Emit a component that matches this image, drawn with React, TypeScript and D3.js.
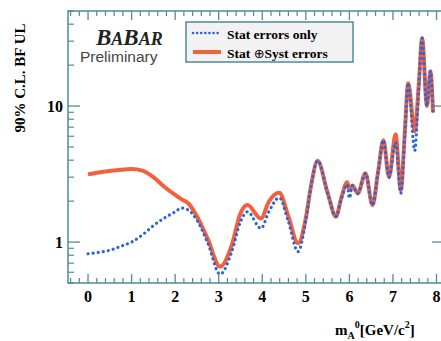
import React from "react";
import * as d3 from "d3";

const mass = [0, 0.25, 0.5, 0.75, 1.0, 1.25, 1.5, 1.75, 2.0, 2.15, 2.3, 2.5, 2.75, 3.03, 3.3, 3.5, 3.66, 3.97, 4.15, 4.39, 4.6, 4.82, 5.0, 5.12, 5.27, 5.5, 5.69, 5.82, 5.95, 6.0, 6.07, 6.19, 6.37, 6.53, 6.66, 6.78, 6.91, 7.06, 7.18, 7.27, 7.35, 7.5, 7.59, 7.67, 7.78, 7.86, 7.92];
const statOnly = [0.82, 0.84, 0.87, 0.93, 1.0, 1.13, 1.32, 1.5, 1.67, 1.78, 1.72, 1.45, 0.98, 0.58, 0.85, 1.41, 1.67, 1.26, 1.67, 2.12, 1.41, 0.85, 1.45, 2.6, 3.96, 2.3, 1.54, 2.1, 2.65, 2.1, 2.6, 2.28, 3.2, 1.87, 3.3, 5.6, 3.0, 5.4, 2.28, 6.0, 14.7, 4.7, 13, 31.5, 10, 18, 9];
const statSyst = [3.15, 3.25, 3.33, 3.4, 3.44, 3.35, 3.0, 2.55, 2.22, 2.06, 1.93, 1.55, 1.05, 0.66, 0.95, 1.63, 1.87, 1.49, 1.98, 2.3, 1.54, 0.98, 1.5, 2.6, 3.96, 2.3, 1.54, 2.15, 2.75, 2.45, 2.6, 2.28, 3.2, 1.87, 3.3, 5.6, 3.0, 6.2, 2.4, 6.2, 14.7, 6.5, 14, 31.5, 10, 18, 9];
const xMajor = [0, 1, 2, 3, 4, 5, 6, 7, 8];
const yMajor = [1, 10];
const legendLabels = ["Stat errors only", "Stat ", "\u2295", "Syst errors"];

const W = 441, H = 341;
const L = 68, R = 440, T = 11, B = 283;
const axisColor = "#4f8b9c";
const blue = "#2e66d6";
const red = "#f2603c";
const serif = "'Liberation Serif', 'DejaVu Serif', serif";

export default function App() {
  const x = d3.scaleLinear().domain([-0.46, 8.08]).range([L, R]);
  const y = d3.scaleLog().domain([0.5, 50]).range([B, T]);
  const line = (vals: number[]) =>
    d3.line<number>().x((_, i) => x(mass[i])).y((v) => y(v)).curve(d3.curveMonotoneX)(vals) || "";

  const xMinor = d3.range(-0.4, 8.05, 0.2).filter((v) => Math.abs(v - Math.round(v)) > 0.01);
  const yMinor: number[] = [];
  [0.1, 1, 10].forEach((d) => {
    for (let k = 2; k <= 9; k++) {
      const v = d * k;
      if (v >= 0.5 && v <= 50) yMinor.push(v);
    }
  });

  return (
    <svg width={W} height={H} style={{ position: "absolute", left: 0, top: 0, background: "#fff" }}>
      <rect x={0} y={0} width={W} height={H} fill="#fff" />
      {/* curves */}
      <path d={line(statSyst)} fill="none" stroke={red} strokeWidth={4} strokeLinejoin="round" />
      <path d={line(statOnly)} fill="none" stroke={blue} strokeWidth={3.2} strokeDasharray="0.1 5" strokeLinecap="round" />

      {/* frame */}
      <path d={`M${R + 2},${T}H${L}V${B}H${R + 2}`} fill="none" stroke={axisColor} strokeWidth={1.5} />
      {xMajor.map((v) => (
        <g key={"xm" + v}>
          <line x1={x(v)} x2={x(v)} y1={B} y2={B - 9} stroke={axisColor} strokeWidth={1.3} />
          <line x1={x(v)} x2={x(v)} y1={T} y2={T + 9} stroke={axisColor} strokeWidth={1.3} />
          <text x={x(v)} y={302} textAnchor="middle" fontFamily={serif} fontWeight="bold" fontSize={16}>{v}</text>
        </g>
      ))}
      {xMinor.map((v, i) => (
        <g key={"xn" + i}>
          <line x1={x(v)} x2={x(v)} y1={B} y2={B - 5} stroke={axisColor} strokeWidth={1.2} />
          <line x1={x(v)} x2={x(v)} y1={T} y2={T + 5} stroke={axisColor} strokeWidth={1.2} />
        </g>
      ))}
      {yMajor.map((v) => (
        <g key={"ym" + v}>
          <line x1={L} x2={L + 12} y1={y(v)} y2={y(v)} stroke={axisColor} strokeWidth={1.3} />
          <line x1={R + 2} x2={R - 8} y1={y(v)} y2={y(v)} stroke={axisColor} strokeWidth={1.3} />
          <text x={63} y={y(v) + 6} textAnchor="end" fontFamily={serif} fontWeight="bold" fontSize={16}>{v}</text>
        </g>
      ))}
      {yMinor.map((v, i) => (
        <g key={"yn" + i}>
          <line x1={L} x2={L + 6} y1={y(v)} y2={y(v)} stroke={axisColor} strokeWidth={1.2} />
        </g>
      ))}

      {/* axis titles */}
      <text transform="translate(25,78) rotate(-90)" textAnchor="middle" fontFamily={serif} fontWeight="bold" fontSize={15}>
        90% C.L. BF UL
      </text>
      <text x={335} y={335} fontFamily={serif} fontWeight="bold" fontSize={15}>
        m<tspan fontSize={10} dy={4}>A</tspan>
        <tspan fontSize={10} dy={-11}>0</tspan>
        <tspan dy={7}>[GeV/c</tspan>
        <tspan fontSize={10} dy={-7}>2</tspan>
        <tspan dy={7}>]</tspan>
      </text>

      {/* BaBar logo */}
      <text x={96} y={45} fontFamily={serif} fontWeight="bold" fontStyle="italic" fill="#222">
        <tspan fontSize={23}>B</tspan>
        <tspan fontSize={18}>A</tspan>
        <tspan fontSize={23}>B</tspan>
        <tspan fontSize={18}>AR</tspan>
      </text>
      <text x={80} y={62} fontFamily="'Liberation Sans', Arial, sans-serif" fontSize={15.5} fill="#444">Preliminary</text>

      {/* legend */}
      <rect x={186} y={22} width={167} height={40} fill="#f2f2f2" stroke={axisColor} strokeWidth={1.5} />
      <line x1={193} x2={219} y1={33} y2={33} stroke={blue} strokeWidth={2.6} strokeDasharray="0.1 4" strokeLinecap="round" />
      <line x1={193} x2={221} y1={52} y2={52} stroke={red} strokeWidth={4} />
      <text x={227} y={38.5} fontFamily={serif} fontWeight="bold" fontSize={13.5}>{legendLabels[0]}</text>
      <text x={227} y={58} fontFamily={serif} fontWeight="bold" fontSize={13.5}>
        {legendLabels[1]}
        <tspan fontWeight="normal" fontFamily="'DejaVu Sans', sans-serif" fontSize={13}>{legendLabels[2]}</tspan>
        {legendLabels[3]}
      </text>
    </svg>
  );
}
